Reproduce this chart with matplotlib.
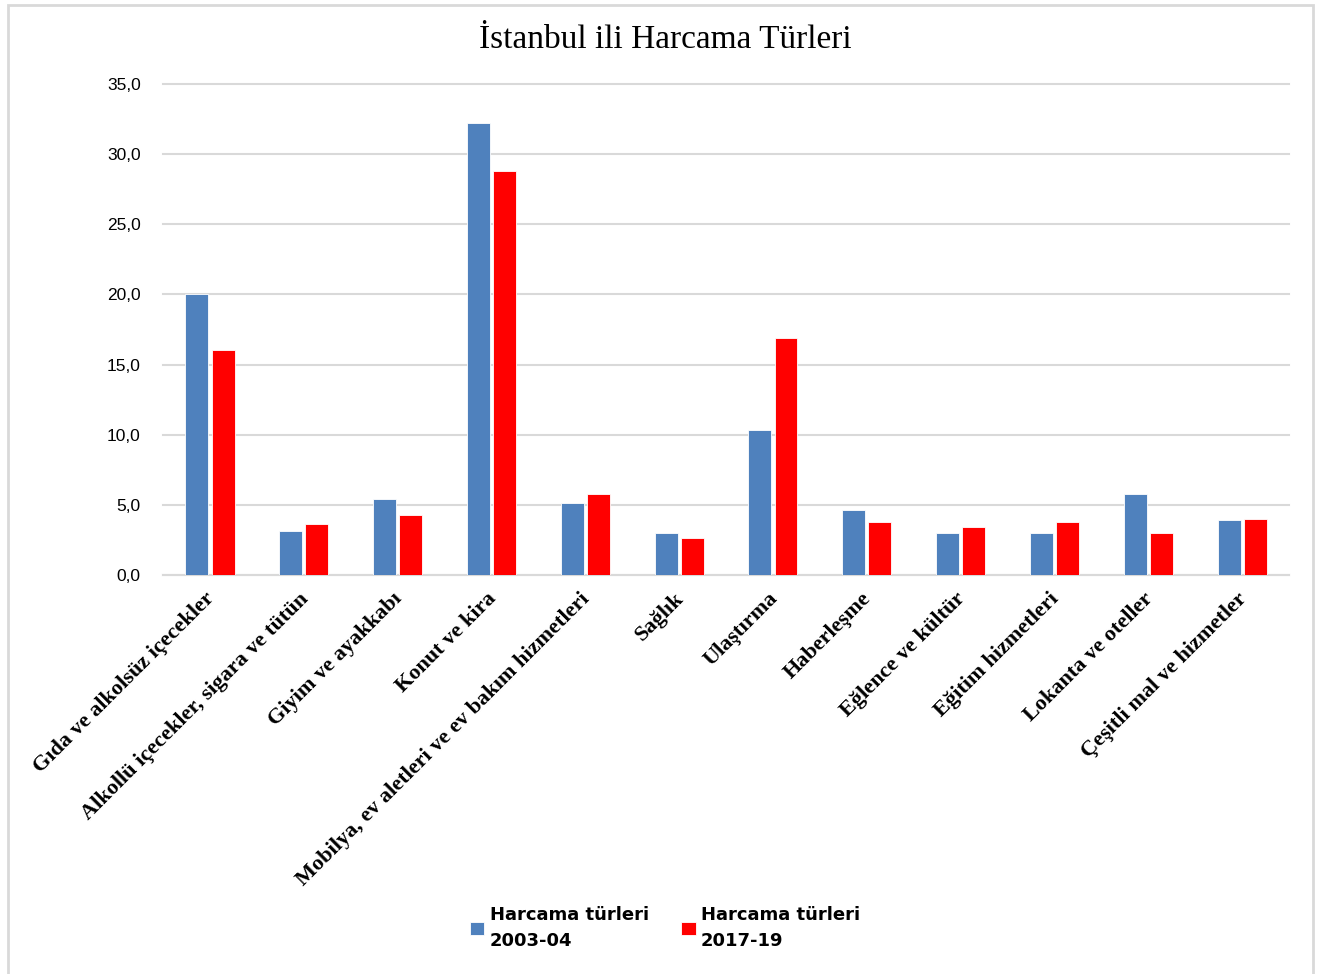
import matplotlib.pyplot as plt
import numpy as np
from matplotlib.patches import Rectangle
from matplotlib.ticker import FuncFormatter

categories = ["Gıda ve alkolsüz içecekler", "Alkollü içecekler, sigara ve tütün",
              "Giyim ve ayakkabı", "Konut ve kira",
              "Mobilya, ev aletleri ve ev bakım hizmetleri", "Sağlık", "Ulaştırma",
              "Haberleşme", "Eğlence ve kültür", "Eğitim hizmetleri",
              "Lokanta ve oteller", "Çeşitli mal ve hizmetler"]
vals_2003 = [20.0, 3.1, 5.4, 32.2, 5.1, 3.0, 10.3, 4.6, 3.0, 3.0, 5.8, 3.9]
vals_2017 = [16.0, 3.6, 4.3, 28.8, 5.8, 2.6, 16.9, 3.8, 3.4, 3.8, 3.0, 4.0]
labels = ["Harcama türleri\n2003-04", "Harcama türleri\n2017-19"]
yticks = [0, 5, 10, 15, 20, 25, 30, 35]

fig = plt.figure(figsize=(13.3, 9.74), dpi=100)
ax = fig.add_axes([0.1226, 0.4097, 0.8466, 0.5041])

x = np.arange(len(categories))
w = 0.245
ax.bar(x - 0.139, vals_2003, w, color="#4F81BD", edgecolor="white", lw=0.6,
       label=labels[0], zorder=3)
ax.bar(x + 0.139, vals_2017, w, color="#FF0000", edgecolor="white", lw=0.6,
       label=labels[1], zorder=3)

ax.set_xlim(-0.5, len(categories) - 0.5)
ax.set_ylim(0, 35)
ax.set_yticks(yticks)
ax.yaxis.set_major_formatter(FuncFormatter(lambda v, p: f"{v:.1f}".replace(".", ",")))
ax.grid(axis="y", color="#D9D9D9", lw=1.5, zorder=0)
for gl in ax.yaxis.get_gridlines():
    gl.set_clip_on(False)
for s in ["top", "right", "left"]:
    ax.spines[s].set_visible(False)
ax.spines["bottom"].set_color("#D9D9D9")
ax.spines["bottom"].set_linewidth(1.5)
ax.tick_params(length=0)
ax.tick_params(axis="y", pad=16, labelsize=12.5)
for t in ax.get_yticklabels():
    t.set_family(["Liberation Sans Narrow", "Liberation Sans"])

# kategori adlari: egik, kalin serif
ax.set_xticks(x - 0.06)
ax.set_xticklabels(categories, rotation=45, ha="right", rotation_mode="anchor",
                   family="Liberation Serif", fontweight="bold", fontsize=16)
ax.tick_params(axis="x", pad=10)

fig.suptitle("İstanbul ili Harcama Türleri", family="Liberation Serif",
             fontsize=24, y=0.975)

fig.legend(loc="lower center", ncol=2, bbox_to_anchor=(0.5, 0.008), frameon=False,
           prop={"family": "DejaVu Sans", "weight": "bold", "size": 13},
           handlelength=0.8, handleheight=0.8, handletextpad=0.3, columnspacing=1.8)
for t in fig.legends[0].get_texts():
    t.set_linespacing(1.6)

fig.add_artist(Rectangle((0.006, -0.01), 0.981, 1.005, transform=fig.transFigure,
                         fill=False, edgecolor="#D9D9D9", lw=2))

fig.savefig("out.png", dpi=100)
